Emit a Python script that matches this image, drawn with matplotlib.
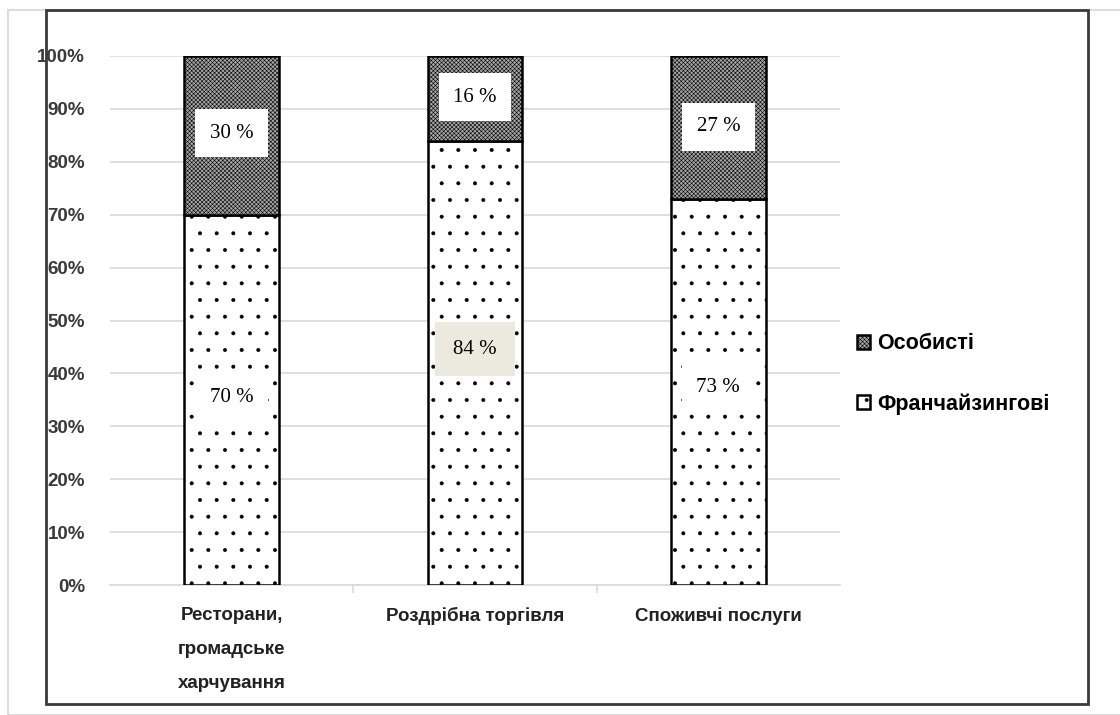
import matplotlib
matplotlib.use("Agg")
import matplotlib.pyplot as plt
from matplotlib.patches import Rectangle
import numpy as np

categories = ["Ресторани,\nгромадське\nхарчування", "Роздрібна торгівля", "Споживчі послуги"]
franchise = [70, 84, 73]
personal = [30, 16, 27]
franchise_labels = ["70 %", "84 %", "73 %"]
personal_labels = ["30 %", "16 %", "27 %"]
franchise_label_y = [35.5, 44.6, 37.4]
personal_label_y = [85.4, 92.2, 86.6]

plt.rcParams["font.family"] = ["Liberation Sans", "DejaVu Sans"]
plt.rcParams["hatch.linewidth"] = 0.4

fig = plt.figure(figsize=(11.2, 7.15), dpi=100)
ax = fig.add_axes([110 / 1120, 1 - 585 / 715, 730 / 1120, 529 / 715])

x = np.arange(len(categories))
w = 0.39
fr = np.array(franchise) / 100
pe = np.array(personal) / 100
b1 = ax.bar(x, fr, w, color="white", edgecolor="black", hatch=".", linewidth=1.8,
            label="Франчайзингові", zorder=3)
b2 = ax.bar(x, pe, w, bottom=fr, color="#a6a6a6", edgecolor="black", hatch="xxxxxxxx",
            linewidth=1.8, label="Особисті", zorder=3)

serif = ["Liberation Serif", "DejaVu Serif"]
for i in range(len(categories)):
    fc = "#ece9df" if i == 1 else "white"
    pad = 0.85 if i == 1 else 0.7
    ax.text(x[i], franchise_label_y[i] / 100, franchise_labels[i], ha="center", va="center",
            fontsize=15, family=serif, zorder=5,
            bbox=dict(boxstyle=f"square,pad={pad}", facecolor=fc, edgecolor="none"))
    ax.text(x[i], personal_label_y[i] / 100, personal_labels[i], ha="center", va="center",
            fontsize=15, family=serif, zorder=5,
            bbox=dict(boxstyle="square,pad=0.7", facecolor="white", edgecolor="none"))

ax.set_xlim(-0.5, len(categories) - 0.5)
ax.set_ylim(0, 1)
ax.set_yticks(np.arange(0, 1.01, 0.1))
ax.set_yticklabels([f"{int(v)}%" for v in np.arange(0, 101, 10)], fontsize=13.5,
                   fontweight="bold", color="#3a3a3a")
ax.yaxis.grid(True, color="#d9d9d9", linewidth=1.2, zorder=0)
ax.set_axisbelow(True)
ax.tick_params(axis="y", length=0, pad=18)
ax.set_xticks(x)
ax.set_xticklabels(categories, fontsize=13.5, fontweight="bold", color="#222222",
                   linespacing=2.3, va="top")
ax.set_xticks(np.arange(0.5, len(categories) - 0.5), minor=True)
ax.tick_params(axis="x", which="major", length=0, pad=16)
ax.tick_params(axis="x", which="minor", length=6, color="#d9d9d9", width=1.2)
for s in ["left", "right", "top"]:
    ax.spines[s].set_visible(False)
ax.spines["bottom"].set_color("#d9d9d9")
ax.spines["bottom"].set_linewidth(1.2)

leg = fig.legend([b2, b1], ["Особисті", "Франчайзингові"], loc="upper left",
                 bbox_to_anchor=(838 / 1120, 1 - 314 / 715), frameon=False,
                 handlelength=0.6, handleheight=0.6, handletextpad=0.3,
                 labelspacing=1.8, prop=dict(weight="bold", size=15.5))

# outer frames
fig.patches.append(Rectangle((8 / 1120, 0), 1.2, 1 - 10 / 715, transform=fig.transFigure,
                             fill=False, edgecolor="#dddddd", linewidth=1.5, zorder=0))
fig.patches.append(Rectangle((46 / 1120, 1 - 704 / 715), 1042 / 1120, 694 / 715,
                             transform=fig.transFigure, fill=False, edgecolor="#3a3a3a",
                             linewidth=2, zorder=1))

fig.savefig("out.png", dpi=100)
